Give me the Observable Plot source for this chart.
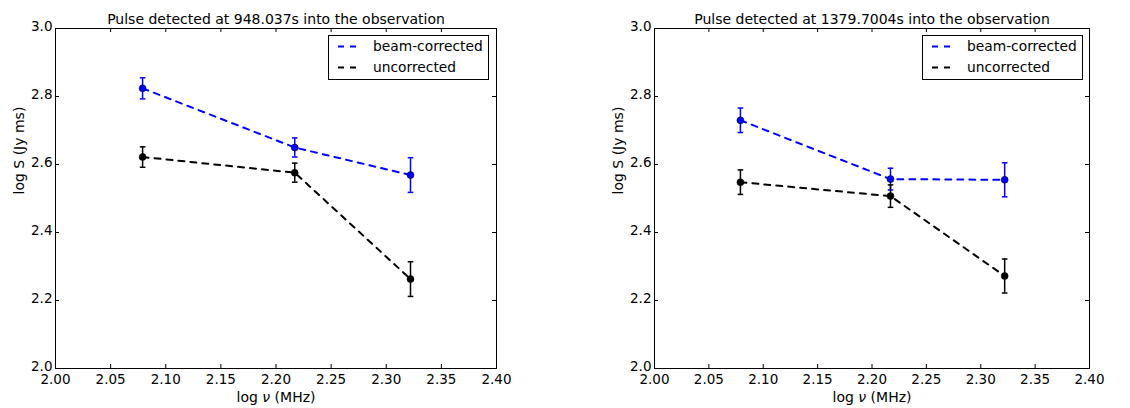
<!DOCTYPE html>
<html>
<head>
<meta charset="utf-8">
<script src="https://cdn.jsdelivr.net/npm/d3@7"></script>
<script src="https://cdn.jsdelivr.net/npm/@observablehq/plot@0.6"></script>
<style>
  html, body { margin: 0; padding: 0; background: #fff; }
  #wrap { position: relative; width: 1130px; height: 408px; font-family: "DejaVu Sans", sans-serif; }
  .panel { position: absolute; top: 0; }
  .legend { position: absolute; }
</style>
</head>
<body>
<div id="wrap">
  <div id="p1" class="panel" style="left:0px"></div>
  <div id="p2" class="panel" style="left:565px"></div>
</div>
<script>
// ---- data ----
const logFreq = [2.079, 2.217, 2.322];

const titles = [
  "Pulse detected at 948.037s into the observation",
  "Pulse detected at 1379.7004s into the observation"
];

const beam1 = [2.824, 2.650, 2.569];
const beamErr1 = [0.031, 0.028, 0.051];
const uncor1 = [2.622, 2.576, 2.263];
const uncorErr1 = [0.030, 0.028, 0.051];

const beam2 = [2.730, 2.557, 2.555];
const beamErr2 = [0.036, 0.032, 0.050];
const uncor2 = [2.548, 2.507, 2.272];
const uncorErr2 = [0.036, 0.033, 0.050];

const seriesNames = ["beam-corrected", "uncorrected"];
const seriesColors = ["#0000ff", "#000000"];

const xTicks = [2.00, 2.05, 2.10, 2.15, 2.20, 2.25, 2.30, 2.35, 2.40];
const yTicks = [2.0, 2.2, 2.4, 2.6, 2.8, 3.0];
const xLabel = "log ν (MHz)";
const yLabel = "log S (Jy ms)";

// ---- helpers ----
const capSymbol = {
  draw(ctx, size) {
    const w = Math.sqrt(size / Math.PI);
    ctx.moveTo(-w, 0);
    ctx.lineTo(w, 0);
  }
};

function rows(ys, errs, series) {
  return logFreq.map((x, i) => ({x, y: ys[i], e: errs[i], series}));
}

function panel(el, title, data, m) {
  const W = 565, H = 408;
  const fw = W - m.left - m.right;
  const fh = H - m.top - m.bottom;
  const marks = [];
  // inward ticks on all sides
  marks.push(Plot.tickX(xTicks, {x: d => d, insetTop: fh - 4, stroke: "black"}));
  marks.push(Plot.tickX(xTicks, {x: d => d, insetBottom: fh - 4, stroke: "black"}));
  marks.push(Plot.tickY(yTicks, {y: d => d, insetRight: fw - 4, stroke: "black"}));
  marks.push(Plot.tickY(yTicks, {y: d => d, insetLeft: fw - 4, stroke: "black"}));
  marks.push(Plot.axisX({ticks: xTicks, tickSize: 0, tickPadding: 6, tickFormat: d => d.toFixed(2), label: null, fontSize: 13.5}));
  marks.push(Plot.axisY({ticks: yTicks, tickSize: 0, tickPadding: 3, tickFormat: d => d.toFixed(1), label: null, fontSize: 13.5, dy: -2}));
  for (const s of seriesNames) {
    const d = data.filter(r => r.series === s);
    const c = seriesColors[seriesNames.indexOf(s)];
    marks.push(Plot.line(d, {x: "x", y: "y", stroke: c, strokeWidth: 2, strokeDasharray: "6,6"}));
  }
  for (const s of seriesNames) {
    const d = data.filter(r => r.series === s);
    const c = seriesColors[seriesNames.indexOf(s)];
    marks.push(Plot.ruleX(d, {x: "x", y1: r => r.y - r.e, y2: r => r.y + r.e, stroke: c, strokeWidth: 1.5}));
    marks.push(Plot.dot(d, {x: "x", y: r => r.y - r.e, symbol: capSymbol, r: 2.8, stroke: c, strokeWidth: 1.5}));
    marks.push(Plot.dot(d, {x: "x", y: r => r.y + r.e, symbol: capSymbol, r: 2.8, stroke: c, strokeWidth: 1.5}));
    marks.push(Plot.dot(d, {x: "x", y: "y", r: 3.5, fill: c, stroke: "black", strokeWidth: 0.5}));
  }
  marks.push(Plot.frame({stroke: "black", strokeWidth: 1}));
  marks.push(Plot.text([title], {frameAnchor: "top", dy: -5, lineAnchor: "bottom", fontSize: 14}));
  marks.push(Plot.text([xLabel], {frameAnchor: "bottom", dy: 33, lineAnchor: "bottom", fontSize: 14}));
  marks.push(Plot.text([yLabel], {frameAnchor: "left", dx: -32, dy: -4, rotate: -90, lineAnchor: "bottom", fontSize: 14}));

  const chart = Plot.plot({
    width: W, height: H,
    marginLeft: m.left, marginRight: m.right, marginTop: m.top, marginBottom: m.bottom,
    x: {domain: [2.0, 2.4]},
    y: {domain: [2.0, 3.0]},
    style: {fontFamily: "DejaVu Sans", fontSize: "13.5px", color: "black", background: "white", overflow: "visible"},
    marks
  });
  // italic nu
  d3.select(chart).selectAll("text").each(function() {
    if (this.textContent === xLabel) {
      this.innerHTML = "log <tspan font-style=\"italic\">ν</tspan> (MHz)";
    }
  });
  el.appendChild(chart);

  // legend
  const lg = d3.select(el).append("svg")
    .attr("class", "legend")
    .style("left", (m.legendLeft) + "px")
    .style("top", "35px")
    .attr("width", 162).attr("height", 46)
    .style("font-family", "DejaVu Sans")
    .style("font-size", "13.8px");
  lg.append("rect").attr("x", 0.5).attr("y", 0.5).attr("width", 160).attr("height", 44)
    .attr("fill", "white").attr("stroke", "black").attr("stroke-width", 1);
  seriesNames.forEach((s, i) => {
    const y = 11.5 + i * 21;
    lg.append("line").attr("x1", 10).attr("x2", 29).attr("y1", y).attr("y2", y)
      .attr("stroke", seriesColors[i]).attr("stroke-width", 2).attr("stroke-dasharray", "6,6");
    lg.append("text").attr("x", 45).attr("y", y).attr("dy", "0.35em").text(s);
  });
}

panel(document.getElementById("p1"), titles[0],
  [...rows(beam1, beamErr1, "beam-corrected"), ...rows(uncor1, uncorErr1, "uncorrected")],
  {left: 55, right: 69, top: 28, bottom: 40, legendLeft: 328});
panel(document.getElementById("p2"), titles[1],
  [...rows(beam2, beamErr2, "beam-corrected"), ...rows(uncor2, uncorErr2, "uncorrected")],
  {left: 89, right: 41, top: 28, bottom: 40, legendLeft: 922 - 565});
</script>
</body>
</html>
